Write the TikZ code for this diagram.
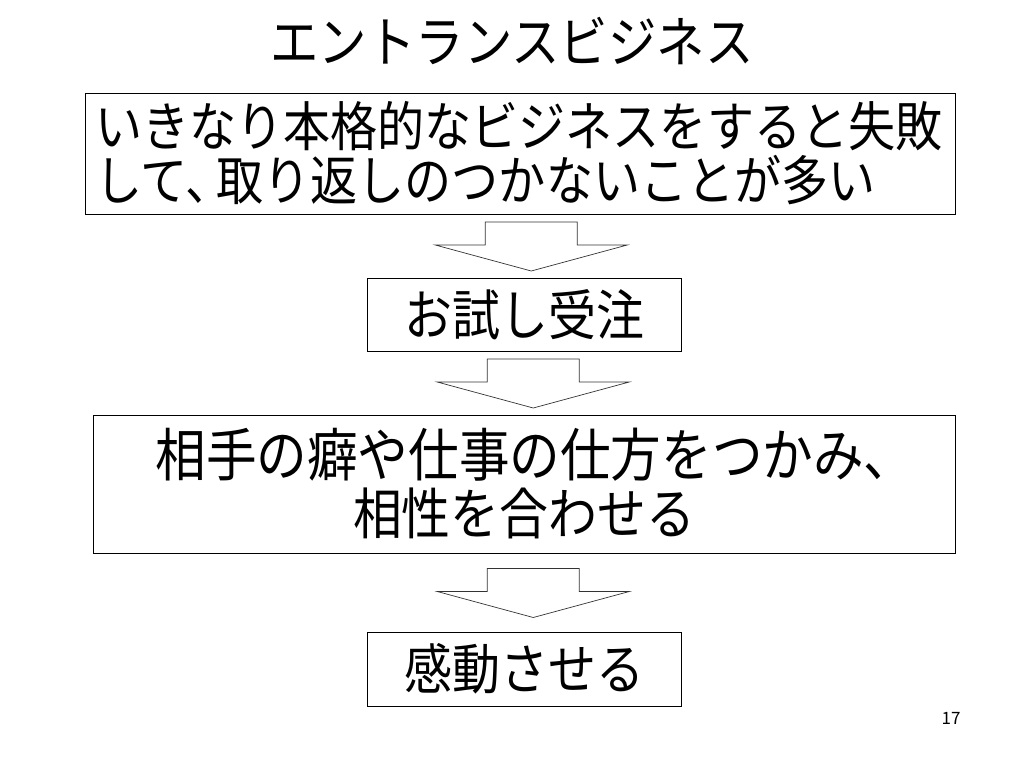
\documentclass[tikz,border=0pt]{standalone}
\usepackage{fontspec}
\setmainfont[FakeStretch=0.88]{Noto Sans CJK JP}
\newfontfamily\pagefont{Noto Sans CJK JP}
\usetikzlibrary{calc}
\tikzset{
  box/.style={draw,line width=0.8pt,inner sep=0pt,align=center},
  blockarr/.style={draw=black!80,line width=0.7pt,line join=miter}
}
\begin{document}
\begin{tikzpicture}[x=1pt,y=-1pt,font=\fontsize{54.5}{57}\selectfont]
 	\useasboundingbox (0,0) rectangle (1024,768);
 	\node[font=\fontsize{55}{58}\selectfont] (title) at (512,41) {エントランスビジネス};
 	\node[box,minimum width=870pt,minimum height=121pt,text width=850pt,align=left,
 	   	font=\fontsize{53.5}{54}\selectfont] (box1) at (520,153.5)
 	   	{いきなり本格的なビジネスをすると失敗\\して、\kern-16pt取り返しのつかないことが多い};
 	\node[box,minimum width=862pt,minimum height=138pt,font=\fontsize{55.5}{58}\selectfont] (box3) at (524,484)
 	   	{{\fontsize{57.5}{58}\selectfont\hspace*{22pt}相手の癖や仕事の仕方をつかみ、}\\相性を合わせる};
 	\node[box,minimum width=314pt,minimum height=73pt] (box2) at (524.5,314.5) {お試し受注};
 	\node[box,minimum width=314pt,minimum height=74pt] (box4) at (524.5,669) {感動させる};
 	\foreach \a/\b in {box1/box2,box2/box3,box3/box4}
 	   	\draw[blockarr,shift={($(\a.south)!.5!(\b.north)+(9,0)$)}]
 	   	(-46,-24) -- (46,-24) -- (46,-1) -- (96,-1) -- (0,25) -- (-96,-1) -- (-46,-1) -- cycle;
 	\node[font=\pagefont\fontsize{17}{20}\selectfont] (page) at (951,718) {17};
\end{tikzpicture}
\end{document}
